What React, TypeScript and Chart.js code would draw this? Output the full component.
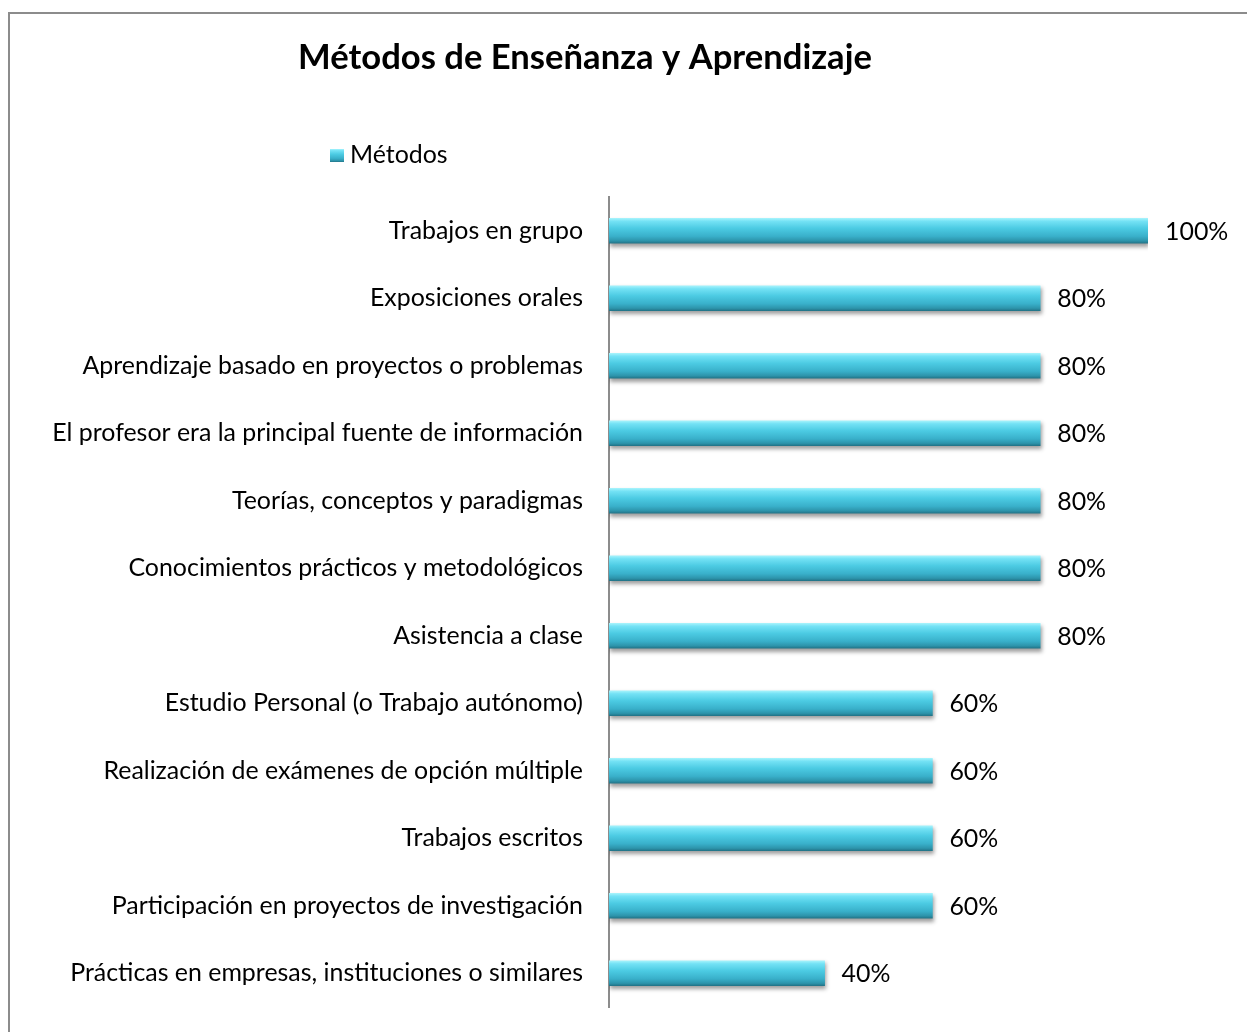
import React, { useEffect, useRef } from "react";
import { Chart, registerables } from "chart.js";

Chart.register(...registerables);

const TITLE = "Métodos de Enseñanza y Aprendizaje";
const SERIES_LABEL = "Métodos";
const CATEGORIES = [
  "Trabajos en grupo",
  "Exposiciones orales",
  "Aprendizaje basado en proyectos o problemas",
  "El profesor era la principal fuente de información",
  "Teorías, conceptos y paradigmas",
  "Conocimientos prácticos y metodológicos",
  "Asistencia a clase",
  "Estudio Personal (o Trabajo autónomo)",
  "Realización de exámenes de opción múltiple",
  "Trabajos escritos",
  "Participación en proyectos de investigación",
  "Prácticas en empresas, instituciones o similares",
];
const VALUES = [100, 80, 80, 80, 80, 80, 80, 60, 60, 60, 60, 40];

const FAMILY = "Lato, 'Open Sans', sans-serif";
const W = 1247;
const H = 1032;
const BAR_T = 25;

function fitSize(weight: string, text: string, target: number) {
  const c = document.createElement("canvas").getContext("2d")!;
  c.font = `${weight} 100px ${FAMILY}`;
  return (100 * target) / c.measureText(text).width;
}

function barGradient(ctx: CanvasRenderingContext2D, top: number, bottom: number) {
  const g = ctx.createLinearGradient(0, top, 0, bottom);
  g.addColorStop(0, "#a6f3fc");
  g.addColorStop(0.12, "#74e2f5");
  g.addColorStop(0.4, "#4ccbe3");
  g.addColorStop(0.72, "#39b0ca");
  g.addColorStop(0.9, "#2d94ab");
  g.addColorStop(1, "#227488");
  return g;
}

export default function App() {
  const ref = useRef<HTMLCanvasElement | null>(null);

  useEffect(() => {
    if (!ref.current) return;
    const labelSize = fitSize("normal", CATEGORIES[3], 531);
    const titleSize = fitSize("bold", TITLE, 574);

    const decor = {
      id: "decor",
      beforeDatasetsDraw(chart: any) {
        const ctx = chart.ctx;
        ctx.save();
        ctx.shadowColor = "rgba(0,0,0,0.38)";
        ctx.shadowOffsetY = 3;
        ctx.shadowOffsetX = 1;
        ctx.shadowBlur = 4;
      },
      afterDatasetsDraw(chart: any) {
        const ctx = chart.ctx;
        ctx.restore();
        const meta = chart.getDatasetMeta(0);
        ctx.save();
        ctx.fillStyle = "#000";
        ctx.font = `normal ${labelSize}px ${FAMILY}`;
        ctx.textAlign = "left";
        ctx.textBaseline = "middle";
        meta.data.forEach((el: any, i: number) => {
          ctx.fillText(`${VALUES[i]}%`, el.x + 17, el.y + 1);
        });
        ctx.restore();
      },
      afterDraw(chart: any) {
        const ctx = chart.ctx;
        ctx.save();
        // title
        ctx.fillStyle = "#000";
        ctx.font = `bold ${titleSize}px ${FAMILY}`;
        ctx.textAlign = "center";
        ctx.textBaseline = "alphabetic";
        ctx.fillText(TITLE, 585, 69);
        // legend
        ctx.fillStyle = barGradient(ctx, 149, 162);
        ctx.fillRect(330, 149, 14, 13);
        ctx.fillStyle = "#000";
        ctx.font = `normal ${labelSize}px ${FAMILY}`;
        ctx.textAlign = "left";
        ctx.textBaseline = "middle";
        ctx.fillText(chart.data.datasets[0].label, 350, 155);
        ctx.restore();
      },
    };

    const chart = new Chart(ref.current, {
      type: "bar",
      data: {
        labels: CATEGORIES,
        datasets: [
          {
            label: SERIES_LABEL,
            data: VALUES,
            barThickness: BAR_T,
            borderWidth: 0,
            backgroundColor: (c: any) => {
              const chart = c.chart;
              const y = chart.scales && chart.scales.y;
              if (!y || c.dataIndex == null) return "#3fbfd8";
              const cy = y.getPixelForValue(c.dataIndex);
              if (!isFinite(cy)) return "#3fbfd8";
              return barGradient(chart.ctx, cy - BAR_T / 2, cy + BAR_T / 2);
            },
          },
        ],
      },
      options: {
        indexAxis: "y",
        animation: false,
        responsive: false,
        maintainAspectRatio: false,
        layout: { padding: { top: 197, bottom: 25, left: 0, right: W - 1148 } },
        plugins: {
          legend: { display: false },
          title: { display: false },
          tooltip: { enabled: false },
        },
        scales: {
          x: { display: false, min: 0, max: 100 },
          y: {
            afterFit: (s: any) => {
              s.width = 609;
              s.paddingTop = 0;
              s.paddingBottom = 0;
            },
            grid: { display: false, drawTicks: false },
            border: { display: true, color: "#8c8c8c", width: 2 },
            ticks: {
              padding: 26,
              color: "#000",
              font: { family: FAMILY, size: labelSize },
            },
          },
        },
      },
      plugins: [decor],
    } as any);

    return () => chart.destroy();
  }, []);

  return (
    <div
      style={{
        position: "fixed",
        left: 0,
        top: 0,
        width: W,
        height: H,
        overflow: "hidden",
        background: "#fff",
      }}
    >
      <canvas
        ref={ref}
        width={W}
        height={H}
        style={{ position: "absolute", left: 0, top: 0, display: "block" }}
      />
      <div
        style={{
          position: "absolute",
          left: 8,
          top: 12,
          width: 1260,
          height: 1100,
          borderLeft: "2px solid #8c8c8c",
          borderTop: "2px solid #8c8c8c",
          pointerEvents: "none",
        }}
      />
    </div>
  );
}
